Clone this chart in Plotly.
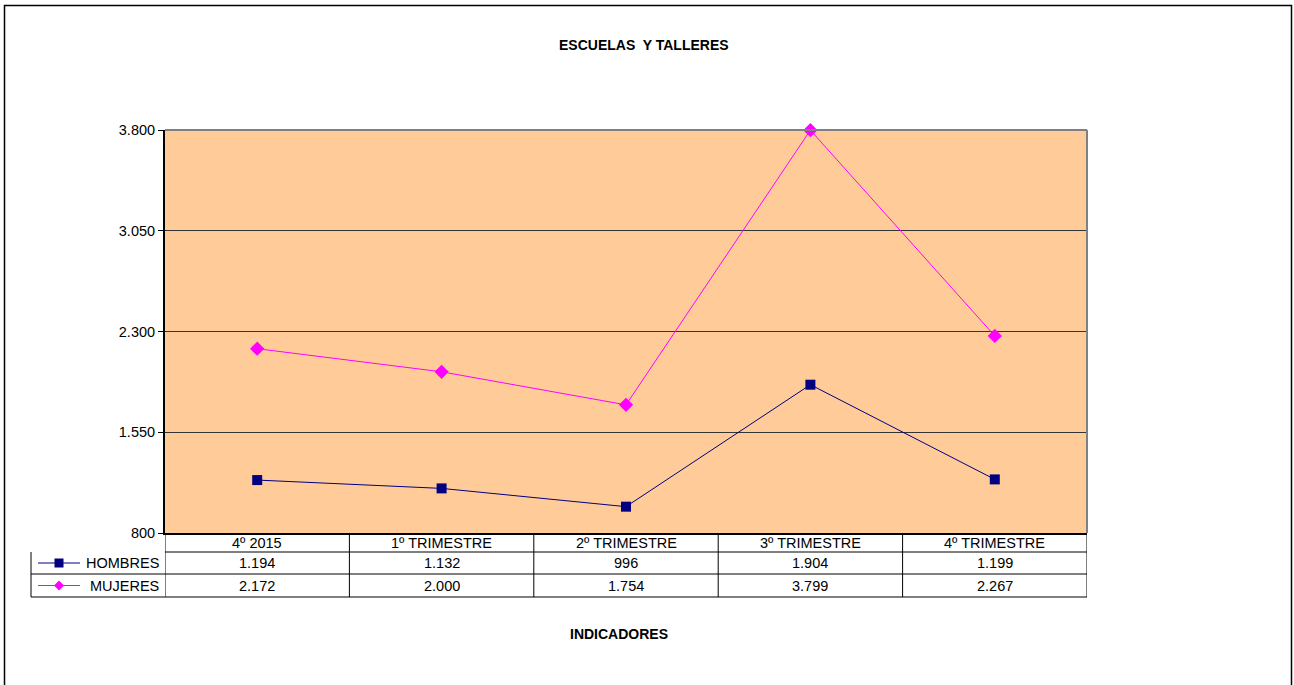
import plotly.graph_objects as go

categories = ['4º 2015', '1º TRIMESTRE', '2º TRIMESTRE', '3º TRIMESTRE', '4º TRIMESTRE']
hombres = [1194, 1132, 996, 1904, 1199]
mujeres = [2172, 2000, 1754, 3799, 2267]
series = [('HOMBRES', hombres, '#000080', 'square'),
          ('MUJERES', mujeres, '#FF00FF', 'diamond')]
y_ticks = [800, 1550, 2300, 3050, 3800]

W, H = 1294, 685
L, R, T, B = 165, 1087, 130, 533   # plot area, pixels
pw, ph = R - L, B - T


def px(x):
    return (x - L) / pw


def py(y):
    return (B - y) / ph


def fmt(v):
    return f'{v:,}'.replace(',', '.')


FONT = 'Liberation Sans, Arial, sans-serif'
TXT = dict(size=14.5, color='black')

fig = go.Figure()
for name, vals, color, sym in series:
    fig.add_trace(go.Scatter(
        x=list(range(len(categories))), y=vals, name=name, mode='lines+markers',
        line=dict(color=color, width=1),
        marker=dict(symbol=sym, size=10 if sym == 'square' else 11, color=color),
        showlegend=False, cliponaxis=False))

shapes = []
ann = []
line_k = dict(color='black', width=1)

# outer chart border
shapes.append(dict(type='rect', xref='paper', yref='paper',
                   x0=px(4.5), x1=px(1291.5), y0=py(700), y1=py(5.5),
                   line=dict(color='black', width=1.5)))

# plot area top/right border (gray)
shapes.append(dict(type='line', xref='paper', yref='paper', x0=0, x1=1, y0=1, y1=1,
                   line=dict(color='#808080', width=2)))
shapes.append(dict(type='line', xref='paper', yref='paper', x0=1, x1=1, y0=0, y1=1,
                   line=dict(color='#808080', width=2)))

# data table
rows_y = [533, 552, 574, 597]
n = len(categories)
shapes.append(dict(type='line', xref='x', yref='paper', x0=-0.5, x1=n - 0.5,
                   y0=py(552), y1=py(552), line=line_k))
for yy in rows_y[2:]:
    shapes.append(dict(type='line', xref='paper', yref='paper', x0=px(31), x1=1,
                       y0=py(yy), y1=py(yy), line=line_k))
shapes.append(dict(type='line', xref='paper', yref='paper', x0=px(31), x1=px(31),
                   y0=py(597), y1=py(552), line=line_k))
for i in range(n + 1):
    shapes.append(dict(type='line', xref='x', yref='paper', x0=i - 0.5, x1=i - 0.5,
                       y0=py(597), y1=0, line=line_k))

for i, c in enumerate(categories):
    ann.append(dict(x=i, y=py(543), xref='x', yref='paper', text=c, showarrow=False,
                    xanchor='center', yanchor='middle', font=TXT))
for r, (name, vals, color, sym) in enumerate(series):
    yc = (rows_y[r + 1] + rows_y[r + 2]) / 2
    for i, v in enumerate(vals):
        ann.append(dict(x=i, y=py(yc), xref='x', yref='paper', text=fmt(v),
                        showarrow=False, xanchor='center', yanchor='middle', font=TXT))
    ann.append(dict(x=px(161), y=py(yc), xref='paper', yref='paper', text=name,
                    xanchor='right', yanchor='middle', showarrow=False, font=TXT))
    # legend key
    shapes.append(dict(type='line', xref='paper', yref='paper', x0=px(38), x1=px(80),
                       y0=py(yc), y1=py(yc), line=dict(color=color, width=1)))
    cx, cy = 59, yc
    if sym == 'square':
        shapes.append(dict(type='rect', xref='paper', yref='paper',
                           x0=px(cx - 4.5), x1=px(cx + 4.5), y0=py(cy + 4.5), y1=py(cy - 4.5),
                           fillcolor=color, line=dict(width=0)))
    else:
        path = (f'M {px(cx - 5)},{py(cy)} L {px(cx)},{py(cy - 5)} '
                f'L {px(cx + 5)},{py(cy)} L {px(cx)},{py(cy + 5)} Z')
        shapes.append(dict(type='path', xref='paper', yref='paper', path=path,
                           fillcolor=color, line=dict(width=0)))

ann.append(dict(x=px(619), y=py(634), xref='paper', yref='paper', text='<b>INDICADORES</b>',
                xanchor='center', yanchor='middle', showarrow=False,
                font=dict(size=14, color='black')))
ann.append(dict(x=px(644), y=py(45), xref='paper', yref='paper',
                text='<b>ESCUELAS\u00a0 Y TALLERES</b>',
                xanchor='center', yanchor='middle', showarrow=False,
                font=dict(size=14, color='black')))

fig.update_layout(
    width=W, height=H,
    margin=dict(l=L, r=W - R, t=T, b=H - B, autoexpand=False),
    paper_bgcolor='white', plot_bgcolor='#FFCC99',
    font=dict(family=FONT, color='black', size=14.5),
    separators=',.',
    shapes=shapes, annotations=ann,
    xaxis=dict(range=[-0.5, n - 0.5], showticklabels=False, showgrid=False,
               zeroline=False, showline=True, linecolor='black', linewidth=2,
               ticks=''),
    yaxis=dict(range=[800, 3800], tickvals=y_ticks, tickformat=',d',
               separatethousands=True, showgrid=True, gridcolor='#333333',
               gridwidth=1, zeroline=False, showline=True, linecolor='black',
               linewidth=2, ticks='outside', ticklen=5, tickcolor='black',
               tickfont=TXT),
)

# drop the default body margin so the figure fills the window
fig.write_html('out.html', config={'displayModeBar': False},
               post_script="document.body.style.margin='0';"
                           "document.body.style.overflow='hidden';")
